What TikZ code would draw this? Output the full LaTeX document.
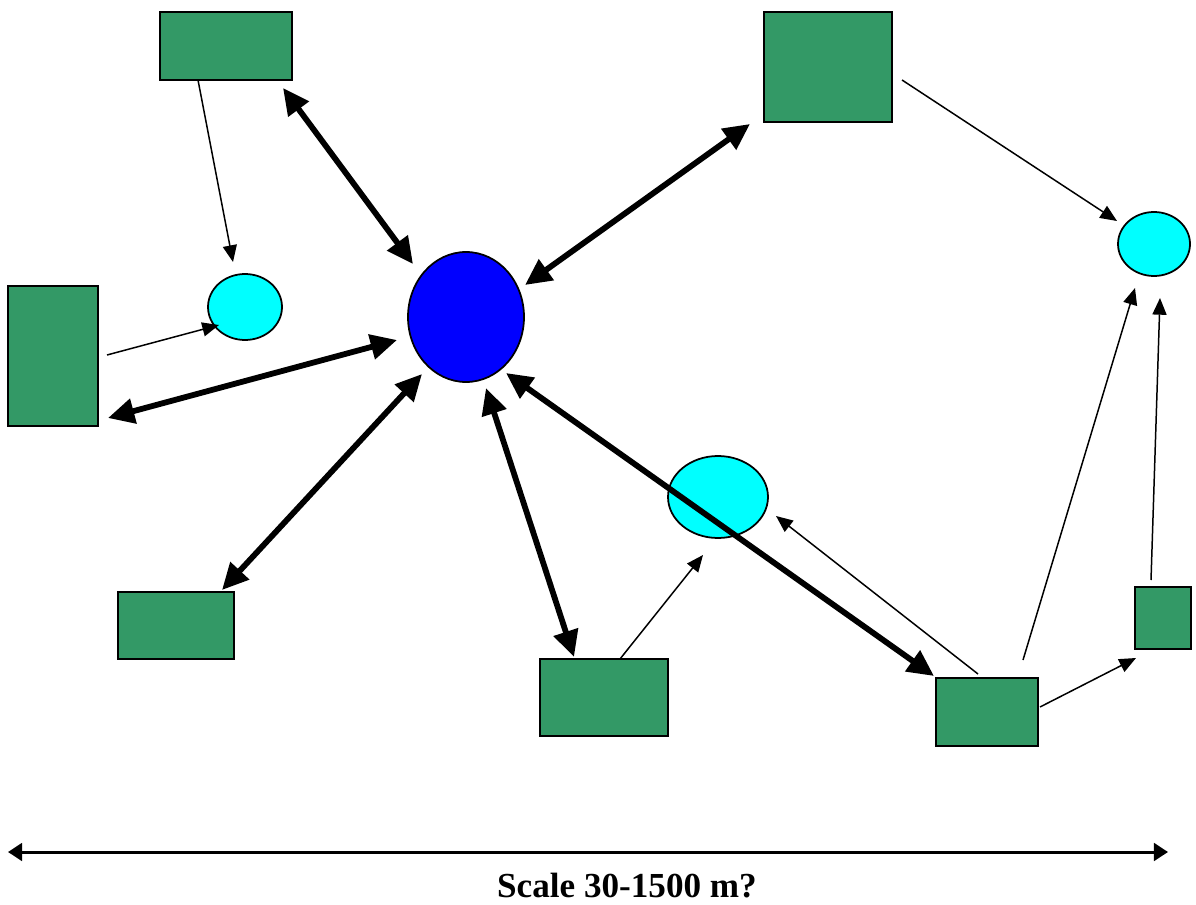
\documentclass[tikz,border=0pt]{standalone}
\usepackage{fontspec}
\setmainfont{Liberation Serif}
\usetikzlibrary{arrows.meta,shapes.geometric}
\definecolor{boxgreen}{RGB}{51,153,102}
\definecolor{aqua}{RGB}{0,255,255}
\definecolor{hubblue}{RGB}{0,0,255}
\begin{document}
\begin{tikzpicture}[x=0.02cm,y=-0.02cm,
  box/.style={draw=black,line width=1.1pt,fill=boxgreen},
  blob/.style={draw=black,line width=1.0pt,fill=aqua,ellipse,inner sep=0pt},
  hub/.style={draw=black,line width=1.0pt,fill=hubblue,ellipse,inner sep=0pt},
  thick link/.style={line width=3.3pt,{Triangle[length=15pt,width=14pt]}-{Triangle[length=15pt,width=14pt]}},
  thin link/.style={line width=0.85pt,-{Triangle[length=9.5pt,width=8pt]}},
  scale line/.style={line width=1.7pt,{Triangle[length=8pt,width=10pt]}-{Triangle[length=8pt,width=10pt]}}]
\useasboundingbox (0,0) rectangle (1196,905);
% boxes
\draw[box] (160,12) rectangle (292,80);
\node (A) at (226,46) {};
\draw[box] (764,12) rectangle (892,122);
\node (B) at (828,67) {};
\draw[box] (8,286) rectangle (98,426);
\node (C) at (53,356) {};
\draw[box] (118,592) rectangle (234,659);
\node (D) at (176,625) {};
\draw[box] (540,659) rectangle (668,736);
\node (E) at (604,697) {};
\draw[box] (936,678) rectangle (1038,746);
\node (F) at (987,712) {};
\draw[box] (1135,587) rectangle (1191,649);
\node (G) at (1163,618) {};
% ellipses
\node[hub,minimum width=116*0.02cm,minimum height=130*0.02cm] (hub) at (466,317) {};
\node[blob,minimum width=74*0.02cm,minimum height=66*0.02cm] (c1) at (245,307) {};
\node[blob,minimum width=72*0.02cm,minimum height=64*0.02cm] (c2) at (1154,244) {};
\node[blob,minimum width=100*0.02cm,minimum height=82*0.02cm] (c3) at (718,497) {};
% connector end points
\coordinate (a1) at (283,88);   \coordinate (h1) at (413,264);
\coordinate (b1) at (750,124);  \coordinate (h2) at (525,285);
\coordinate (cc1) at (108,418); \coordinate (h3) at (397,340);
\coordinate (d1) at (222,590);  \coordinate (h4) at (422,374);
\coordinate (h5) at (486,388);  \coordinate (e1) at (574,657);
\coordinate (h6) at (506,373);  \coordinate (f1) at (934,676);
\coordinate (a2) at (198,80);   \coordinate (c1a) at (233,262);
\coordinate (cc2) at (107,355); \coordinate (c1b) at (219,325);
\coordinate (b2) at (902,80);   \coordinate (c2a) at (1117,221);
\coordinate (e2) at (620,659);  \coordinate (c3a) at (703,555);
\coordinate (f2) at (978,674);  \coordinate (c3b) at (776,516);
\coordinate (f3) at (1023,660); \coordinate (c2b) at (1135,288);
\coordinate (f4) at (1040,707); \coordinate (g1) at (1136,658);
\coordinate (g2) at (1151,580); \coordinate (c2c) at (1160,298);
% thick links
\draw[thick link] (a1) -- (h1);
\draw[thick link] (b1) -- (h2);
\draw[thick link] (cc1) -- (h3);
\draw[thick link] (d1) -- (h4);
\draw[thick link] (h5) -- (e1);
\draw[thick link] (h6) -- (f1);
% thin links
\draw[thin link] (a2) -- (c1a);
\draw[thin link] (cc2) -- (c1b);
\draw[thin link] (b2) -- (c2a);
\draw[thin link] (e2) -- (c3a);
\draw[thin link] (f2) -- (c3b);
\draw[thin link] (f3) -- (c2b);
\draw[thin link] (f4) -- (g1);
\draw[thin link] (g2) -- (c2c);
% scale
\coordinate (s1) at (8,852);
\coordinate (s2) at (1168,852);
\draw[scale line] (s1) -- (s2);
\node[font=\fontsize{20}{24}\selectfont\bfseries] (lbl) at (627,886) {Scale 30-1500 m?};
\end{tikzpicture}
\end{document}
